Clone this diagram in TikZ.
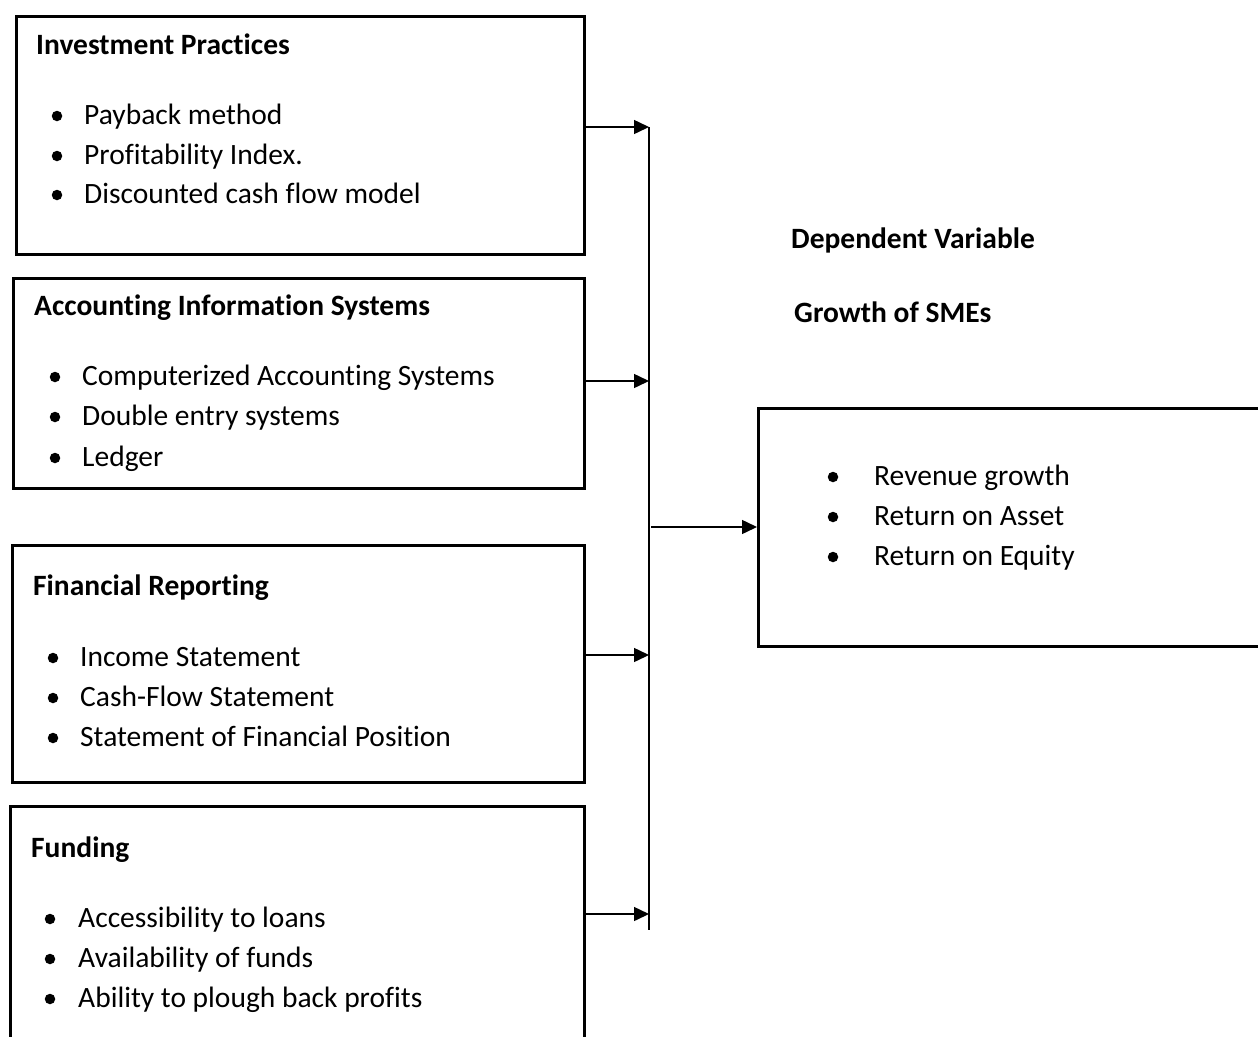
\documentclass[tikz,border=0pt]{standalone}
\usepackage{fontspec}
\setmainfont{Carlito}[Ligatures=NoCommon]
\usetikzlibrary{arrows.meta}
\tikzstyle{box} = [rectangle, draw=black, line width=2.5pt, anchor=north west, inner sep=0pt]
\tikzstyle{head} = [anchor=base west, inner sep=0pt, font=\fontsize{29.5}{36}\selectfont\bfseries]
\tikzstyle{item} = [anchor=base west, inner sep=0pt, font=\fontsize{29.5}{36}\selectfont]
\tikzstyle{dot} = [circle, fill=black, inner sep=0pt, minimum size=10.5pt]
\tikzstyle{link} = [line width=1.5pt]
\tikzstyle{arrow} = [line width=1.5pt, -{Triangle[length=15pt,width=14pt]}]

\begin{document}
\begin{tikzpicture}[x=1pt, y=-1pt]
\clip (0,0) rectangle (1258,1036);

\node (invest)[box, minimum width=568pt, minimum height=238pt] at (15,15) {};
\node (investT)[head] at (36,54) {Investment Practices};
\node (investA)[item] at (84,124) {Payback method};
\node (investB)[item] at (84,164) {Profitability Index.};
\node (investC)[item] at (84,203) {Discounted cash flow model};
\foreach \y in {124,164,203} \node[dot] at (57,\y-8) {};

\node (ais)[box, minimum width=571pt, minimum height=210pt] at (12,277) {};
\node (aisT)[head] at (34,315) {Accounting Information Systems};
\node (aisA)[item] at (82,385) {Computerized Accounting Systems};
\node (aisB)[item] at (82,425) {Double entry systems};
\node (aisC)[item] at (82,466) {Ledger};
\foreach \y in {385,425,466} \node[dot] at (55,\y-8) {};

\node (report)[box, minimum width=572pt, minimum height=237pt] at (11,544) {};
\node (reportT)[head] at (33,595) {Financial Reporting};
\node (reportA)[item] at (80,666) {Income Statement};
\node (reportB)[item] at (80,706) {Cash-Flow Statement};
\node (reportC)[item] at (80,746) {Statement of Financial Position};
\foreach \y in {666,706,746} \node[dot] at (53,\y-8) {};

\node (fund)[box, minimum width=574pt, minimum height=260pt] at (9,805) {};
\node (fundT)[head] at (31,857) {Funding};
\node (fundA)[item] at (78,927) {Accessibility to loans};
\node (fundB)[item] at (78,967) {Availability of funds};
\node (fundC)[item] at (78,1007) {Ability to plough back profits};
\foreach \y in {927,967,1007} \node[dot] at (50,\y-8) {};

\node (depT)[head] at (791,248) {Dependent Variable};
\node (growT)[head] at (794,322) {Growth of SMEs};
\node (dep)[box, minimum width=560pt, minimum height=238pt] at (757,407) {};
\node (depA)[item] at (874,485) {Revenue growth};
\node (depB)[item] at (874,525) {Return on Asset};
\node (depC)[item] at (874,565) {Return on Equity};
\foreach \y in {485,525,565} \node[dot] at (833,\y-8) {};

\coordinate (jInvest) at (649,127);
\coordinate (jAis) at (649,381);
\coordinate (jReport) at (649,655);
\coordinate (jFund) at (649,914);
\coordinate (jEnd) at (649,930);
\coordinate (jOut) at (651,527);
\draw [link](jInvest) -- (jEnd);
\draw [arrow](invest.east |- jInvest) -- (jInvest);
\draw [arrow](ais.east |- jAis) -- (jAis);
\draw [arrow](report.east |- jReport) -- (jReport);
\draw [arrow](fund.east |- jFund) -- (jFund);
\draw [arrow](jOut) -- (dep.west |- jOut);
\end{tikzpicture}
\end{document}
